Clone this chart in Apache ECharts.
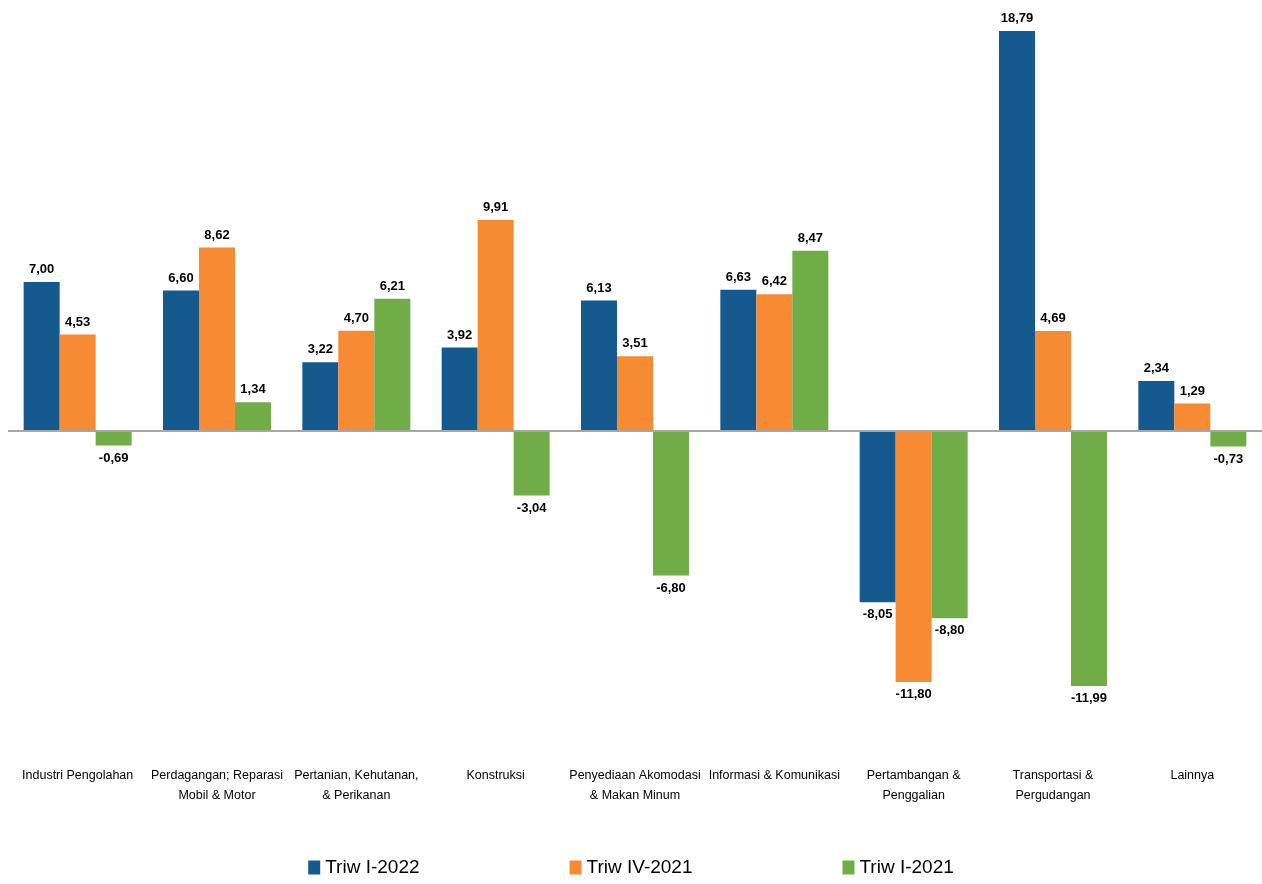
<!DOCTYPE html>
<html>
<head>
<meta charset="utf-8">
<style>html,body{margin:0;padding:0;}#main{width:1262px;height:884px;}</style>
<script src="https://cdn.jsdelivr.net/npm/echarts@6/dist/echarts.min.js"></script>
</head>
<body>
<div id="main"></div>
<script>
var categories = ['Industri Pengolahan', 'Perdagangan; Reparasi\nMobil & Motor', 'Pertanian, Kehutanan,\n& Perikanan', 'Konstruksi', 'Penyediaan Akomodasi\n& Makan Minum', 'Informasi & Komunikasi', 'Pertambangan &\nPenggalian', 'Transportasi &\nPergudangan', 'Lainnya'];
var triw1_2022 = [7.00, 6.60, 3.22, 3.92, 6.13, 6.63, -8.05, 18.79, 2.34];
var triw4_2021 = [4.53, 8.62, 4.70, 9.91, 3.51, 6.42, -11.80, 4.69, 1.29];
var triw1_2021 = [-0.69, 1.34, 6.21, -3.04, -6.80, 8.47, -8.80, -11.99, -0.73];

var font = "'Liberation Sans Narrow', 'Liberation Sans', sans-serif";
function makeSeries(name, data, color) {
    return {
        name: name, type: 'bar', barWidth: 36, barGap: 0,
        itemStyle: { color: color },
        data: data.map(function (v) {
            return { value: v, label: { position: v < 0 ? 'bottom' : 'top' } };
        }),
        label: {
            show: true, fontFamily: font, fontWeight: 'bold', fontSize: 13, color: '#000', distance: 6,
            formatter: function (p) { return p.value.toFixed(2).replace('.', ','); }
        }
    };
}
var chart = echarts.init(document.getElementById('main'));
chart.setOption({
    animation: false,
    grid: { left: 8, right: 0, top: 31, bottom: 126 },
    legend: {
        bottom: 2, left: 'center', itemGap: 150, itemWidth: 12, itemHeight: 14, icon: 'rect',
        textStyle: { fontFamily: font, fontSize: 19, color: '#000' },
        data: ['Triw I-2022', 'Triw IV-2021', 'Triw I-2021']
    },
    xAxis: [{
        type: 'category', data: categories, position: 'bottom',
        axisLine: { show: false }, axisTick: { show: false },
        axisLabel: { fontFamily: font, fontSize: 12.5, color: '#000', margin: 8, interval: 0, lineHeight: 20 }
    }],
    yAxis: { type: 'value', min: -15.37, max: 18.79, show: false, splitLine: { show: false } },
    series: [
        makeSeries('Triw I-2022', triw1_2022, '#145a8f'),
        makeSeries('Triw IV-2021', triw4_2021, '#f68b33'),
        makeSeries('Triw I-2021', triw1_2021, '#70ad47'),
        { type: 'line', data: [], markLine: { silent: true, symbol: 'none', label: { show: false },
            lineStyle: { color: '#a6a6a6', type: 'solid', width: 2 }, data: [{ yAxis: 0 }] } }
    ]
});
</script>
</body>
</html>
